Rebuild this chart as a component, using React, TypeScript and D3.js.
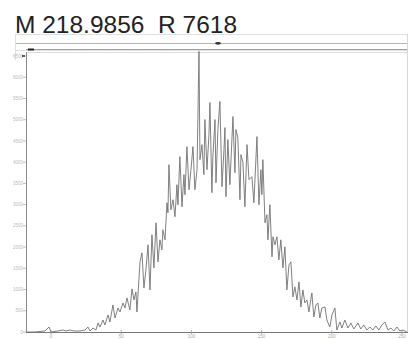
import React from "react";
import * as d3 from "d3";

const titleText = "M 218.9856  R 7618";

const scanX = [
  -17, -11.4, -4.3, -1.4, 0, 5, 8.5, 10.7, 13.5, 16.4, 20.6, 24.2, 26.3, 27.8, 29.9, 32,
  33.5, 34.9, 37, 38.4, 40.6, 42, 44.1, 45.6, 47.7, 49.1, 51.3, 52.7, 54.1, 56.2, 57.7, 59.1,
  60.5, 61.2, 63.4, 64.8, 66.2, 67.6, 69.1, 70.5, 71.9, 73.3, 74.8, 76.2, 77.6, 79, 79.7, 81.2,
  82.6, 83.3, 84, 85.4, 86.9, 88.3, 89.7, 90.4, 91.8, 93.3, 94.7, 95.4, 96.8, 98.3, 99.7, 101.1,
  102.5, 104, 105.4, 106.1, 107.5, 108.9, 109.6, 111.1, 112.5, 113.2, 114.6, 115.3, 116.8, 117.5,
  118.9, 120.3, 121.8, 123.2, 123.9, 124.6, 126, 127.4, 129.6, 131, 131.7, 133.1, 134.6, 135.3,
  136.7, 138.1, 139.6, 141, 143.1, 144.5, 146.7, 148.1, 149.5, 150.2, 150.9, 152.4, 153.8, 154.5,
  155.9, 157.4, 158.1, 159.5, 160.9, 162.3, 163.7, 165.2, 166.6, 168, 169.5, 170.9, 172.3, 173.7,
  175.2, 176.6, 178, 179.4, 180.8, 182.3, 183.7, 185.8, 187.2, 188.7, 190.1, 191.5, 192.9, 195.1,
  196.5, 198.6, 200.1, 202.2, 203.6, 205.8, 207.2, 209.3, 211.5, 213.6, 215.7, 218.6, 220.7, 222.8,
  225, 227.1, 229.2, 231.4, 233.5, 235.7, 237.8, 240, 242.1, 244.2, 246.4, 248.5, 250.6, 253.5,
];

const scanY = [
  0, 0, 24, 118, 0, 24, 47, 24, 47, 24, 24, 47, 118, 24, 94, 47,
  212, 118, 283, 165, 401, 236, 637, 330, 566, 472, 684, 566, 802, 519, 1015, 755,
  944, 472, 1652, 1864, 1038, 1463, 2053, 991, 2289, 1510, 2572, 1652, 2171, 1935, 2407, 2171,
  3044, 2808, 3941, 2879, 3115, 2714, 3469, 2997, 4130, 2950, 3705, 3233, 4366, 3351, 3823, 4366,
  3351, 3823, 6608, 4059, 4413, 3705, 5003, 3823, 4649, 5404, 3280, 4130, 5003, 3516,
  4767, 5428, 3422, 4295, 4814, 3186, 4531, 3469, 5074, 3752, 4767, 4578, 3115, 4177,
  3988, 2950, 4413, 3587, 3658, 3044, 4602, 2997, 3823, 3233, 4059, 2572, 2761, 2171,
  2997, 1770, 2242, 2053, 2242, 1699, 2171, 1510, 2006, 991, 1581, 1652, 826, 1062,
  755, 1180, 590, 991, 684, 755, 472, 920, 354, 637, 684, 330, 566, 590,
  283, 118, 401, 566, 47, 236, 94, 283, 94, 212, 71, 212, 71, 165,
  47, 118, 47, 142, 47, 165, 236, 47, 94, 24, 118, 24, 47, 0,
];

const yTicks = [0, 500, 1000, 1500, 2000, 2500, 3000, 3500, 4000, 4500, 5000, 5500, 6000, 6500];
const xTicks = [0, 50, 100, 150, 200, 250];

export default function App() {
  const W = 410;
  const H = 339;
  const left = 26;
  const right = 408;
  const top = 52;
  const bottom = 332;

  const x = d3.scaleLinear().domain([0, 250]).range([51, 402]);
  const y = d3.scaleLinear().domain([0, 6500]).range([bottom, 56]);

  const pts: [number, number][] = scanX.map((v, i) => [v, scanY[i]]);
  const line = d3
    .line<[number, number]>()
    .x((d) => x(d[0]))
    .y((d) => y(d[1]));

  return (
    <svg
      width={W}
      height={H}
      style={{ position: "absolute", left: 0, top: 0, background: "#fff" }}
      fontFamily="'Liberation Sans', Arial, sans-serif"
    >
      <rect x={0} y={0} width={W} height={H} fill="#fff" />
      <text x={15} y={33} fontSize={24.5} fill="#222" style={{ whiteSpace: "pre" }}>
        {titleText}
      </text>
      {/* toolbar strip */}
      <rect x={15.5} y={34.5} width={392} height={16} fill="none" stroke="#e0e0e0" strokeWidth={1} />
      <line x1={16} x2={407} y1={43.5} y2={43.5} stroke="#b4b4b4" strokeWidth={1} />
      <ellipse cx={218} cy={43.3} rx={3} ry={1.4} fill="#333" />
      <line x1={26} x2={408} y1={49.5} y2={49.5} stroke="#a0a0a0" strokeWidth={1} />
      <rect x={28} y={48.5} width={6} height={2} fill="#222" />
      <line x1={26} x2={408} y1={52.5} y2={52.5} stroke="#dadada" strokeWidth={1} />
      <line x1={407.5} x2={407.5} y1={34} y2={bottom} stroke="#d8d8d8" strokeWidth={1} />
      <line x1={15.5} x2={15.5} y1={34} y2={60} stroke="#e0e0e0" strokeWidth={1} />

      {/* y axis */}
      <line x1={left + 0.5} x2={left + 0.5} y1={top} y2={bottom} stroke="#8a8a8a" strokeWidth={1} />
      <rect x={22} y={55} width={3} height={2} fill="#222" />
      {yTicks.map((t) => (
        <g key={"y" + t}>
          <line x1={left - 3} x2={left} y1={y(t)} y2={y(t)} stroke="#b0b0b0" strokeWidth={0.8} />
          <text x={left - 3} y={y(t) + 1.6} fontSize={4.5} fill="#bbb" textAnchor="end">
            {t}
          </text>
        </g>
      ))}

      {/* x axis */}
      <line x1={left} x2={right} y1={bottom + 0.5} y2={bottom + 0.5} stroke="#777" strokeWidth={1} />
      {xTicks.map((t) => (
        <g key={"x" + t}>
          <line x1={x(t)} x2={x(t)} y1={bottom - 2} y2={bottom + 2} stroke="#999" strokeWidth={0.8} />
          <text x={x(t)} y={bottom + 6.3} fontSize={4.5} fill="#aaa" textAnchor="middle">
            {t}
          </text>
        </g>
      ))}

      {/* spectrum trace */}
      <path d={line(pts) || ""} fill="none" stroke="#727272" strokeWidth={0.9} strokeLinejoin="round" />
    </svg>
  );
}
